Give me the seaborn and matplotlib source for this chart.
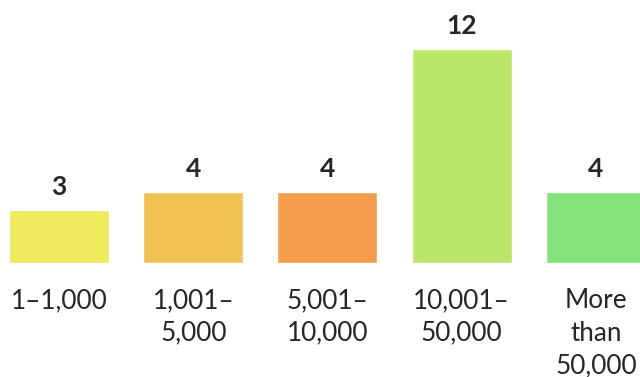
import matplotlib
matplotlib.use("Agg")
import matplotlib.pyplot as plt
import seaborn as sns

# Number of sites per population bracket
categories = ["1\u20131,000", "1,001\u2013\n5,000", "5,001\u2013\n10,000",
              "10,001\u2013\n50,000", "More\nthan\n50,000"]
counts = [3, 4, 4, 12, 4]
colors = ["#EFE95C", "#F0C254", "#F39D4D", "#BBE66B", "#83E37A"]

sns.set_theme(style="white")
plt.rcParams["font.family"] = ["Lato", "DejaVu Sans"]

fig = plt.figure(figsize=(6.4, 3.77), dpi=100)
ax = fig.add_axes([0, 0.3024, 1, 0.6976])

sns.barplot(x=categories, y=counts, hue=categories, palette=colors,
            saturation=1, width=0.745, legend=False, ax=ax)

ax.set_xlim(-0.4395, 4.328)
ax.set_ylim(0, 14.75)

text_color = "#262626"
for i, v in enumerate(counts):
    ax.annotate(str(v), xy=(i, v), xytext=(0, 10.5), textcoords="offset points",
                ha="center", va="baseline", fontsize=19, fontweight="bold",
                color=text_color)

ax.set_xticks(range(len(categories)))
ax.set_xticklabels(categories, fontsize=18.8, color=text_color, linespacing=1.38)
ax.tick_params(axis="x", length=0, pad=18)
ax.set_yticks([])
ax.set_xlabel("")
ax.set_ylabel("")
for s in ax.spines.values():
    s.set_visible(False)

fig.savefig("out.png", dpi=100)
